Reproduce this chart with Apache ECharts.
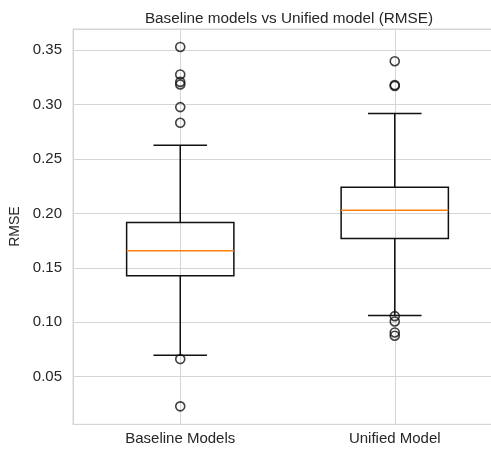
<!DOCTYPE html>
<html>
<head>
<meta charset="utf-8">
<script src="https://cdn.jsdelivr.net/npm/echarts@6/dist/echarts.min.js"></script>
<style>
  html, body { margin: 0; padding: 0; background: #fff; }
  #chart { width: 491px; height: 450px; }
</style>
</head>
<body>
<div id="chart"></div>
<script>
// Groups on the x axis
const categories = ['Baseline Models', 'Unified Model'];

// Box statistics per group: [lower whisker, Q1, median, Q3, upper whisker]
const baselineStats = [0.0696, 0.1427, 0.1656, 0.1916, 0.2626];
const unifiedStats = [0.1063, 0.1769, 0.2030, 0.2240, 0.2919];

// Points beyond the whiskers
const baselineOutliers = [0.3530, 0.3277, 0.3209, 0.3185, 0.2977, 0.2833, 0.0662, 0.0227];
const unifiedOutliers = [0.3399, 0.3180, 0.3172, 0.1056, 0.1007, 0.0906, 0.0876];

// y-axis range (data span plus a 5% margin)
const yMin = 0.0062;
const yMax = 0.3695;

const statsByGroup = [baselineStats, unifiedStats];
const outliersByGroup = [baselineOutliers, unifiedOutliers];

const boxData = statsByGroup.map((s, i) => [i, s[0], s[1], s[2], s[3], s[4]]);
const outlierData = [];
outliersByGroup.forEach((arr, i) => arr.forEach(v => outlierData.push([i, v])));

const INK = '#262626';
const LINE = '#111111';
const GRID = '#d5d5d5';
const FONT = '"Liberation Sans", Arial, sans-serif';

function renderBox(params, api) {
  const idx = api.value(0);
  const band = api.size([1, 0])[0];
  const boxHalf = band * 0.25;
  const capHalf = band * 0.125;
  const pLow = api.coord([idx, api.value(1)]);
  const pQ1 = api.coord([idx, api.value(2)]);
  const pMed = api.coord([idx, api.value(3)]);
  const pQ3 = api.coord([idx, api.value(4)]);
  const pHigh = api.coord([idx, api.value(5)]);
  const x = pMed[0];
  const stroke = { stroke: LINE, lineWidth: 1.5, fill: null };
  return {
    type: 'group',
    children: [
      { type: 'line', shape: { x1: x, y1: pQ1[1], x2: x, y2: pLow[1] }, style: stroke },
      { type: 'line', shape: { x1: x, y1: pQ3[1], x2: x, y2: pHigh[1] }, style: stroke },
      { type: 'line', shape: { x1: x - capHalf, y1: pLow[1], x2: x + capHalf, y2: pLow[1] }, style: stroke },
      { type: 'line', shape: { x1: x - capHalf, y1: pHigh[1], x2: x + capHalf, y2: pHigh[1] }, style: stroke },
      { type: 'rect', shape: { x: x - boxHalf, y: pQ3[1], width: boxHalf * 2, height: pQ1[1] - pQ3[1] }, style: stroke },
      { type: 'line', shape: { x1: x - boxHalf, y1: pMed[1], x2: x + boxHalf, y2: pMed[1] },
        style: { stroke: '#ff7f0e', lineWidth: 1.5 } }
    ]
  };
}

const chart = echarts.init(document.getElementById('chart'), null, { renderer: 'canvas' });
chart.setOption({
  animation: false,
  backgroundColor: '#ffffff',
  title: {
    text: 'Baseline models vs Unified model (RMSE)',
    left: 284,
    textAlign: 'center',
    top: 6,
    textStyle: { fontFamily: FONT, fontSize: 15.3, fontWeight: 'normal', color: INK }
  },
  grid: {
    left: 73,
    top: 29,
    right: -11,
    bottom: 25.7,
    outerBoundsMode: 'none',
    show: true,
    borderColor: GRID,
    borderWidth: 1,
    containLabel: false
  },
  xAxis: {
    type: 'category',
    data: categories,
    boundaryGap: true,
    axisLine: { show: true, lineStyle: { color: GRID, width: 1 } },
    axisTick: { show: false, alignWithLabel: true },
    axisLabel: { color: INK, fontFamily: FONT, fontSize: 15, margin: 7 },
    splitLine: { show: true, alignWithLabel: true, lineStyle: { color: GRID, width: 1 } }
  },
  yAxis: {
    type: 'value',
    min: yMin,
    max: yMax,
    splitNumber: 7,
    name: 'RMSE',
    nameLocation: 'middle',
    nameGap: 42,
    nameTextStyle: { color: INK, fontFamily: FONT, fontSize: 14 },
    axisLine: { show: true, lineStyle: { color: GRID, width: 1 } },
    axisTick: { show: false },
    axisLabel: {
      color: INK, fontFamily: FONT, fontSize: 15, margin: 11,
      showMinLabel: false, showMaxLabel: false,
      formatter: v => v.toFixed(2)
    },
    splitLine: { show: true, lineStyle: { color: GRID, width: 1 } }
  },
  series: [
    {
      type: 'custom',
      name: 'box',
      renderItem: renderBox,
      encode: { x: 0, y: [1, 2, 3, 4, 5] },
      data: boxData,
      z: 3
    },
    {
      type: 'scatter',
      name: 'outliers',
      symbol: 'circle',
      symbolSize: 9,
      itemStyle: { color: 'rgba(0,0,0,0)', borderColor: LINE, borderWidth: 1.6 },
      data: outlierData,
      z: 4
    }
  ]
});
</script>
</body>
</html>
